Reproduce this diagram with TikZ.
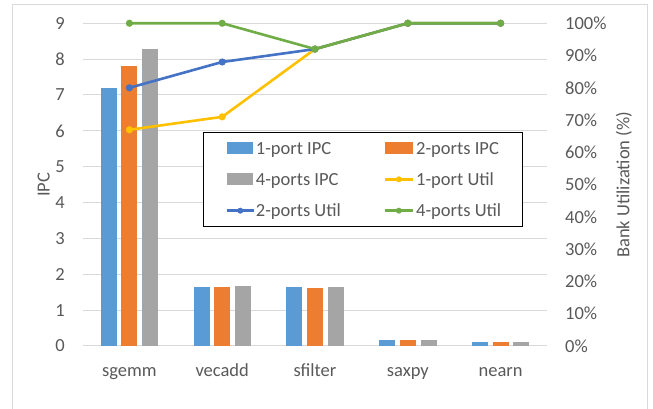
\documentclass[tikz,border=0pt]{standalone}
\usepackage{fontspec}
\setmainfont{Carlito}
\definecolor{txtgray}{HTML}{595959}
\definecolor{gridgray}{HTML}{D9D9D9}
\definecolor{barblue}{HTML}{5B9BD5}
\definecolor{barorange}{HTML}{ED7D31}
\definecolor{bargray}{HTML}{A5A5A5}
\definecolor{utilyellow}{HTML}{FFC000}
\definecolor{utilblue}{HTML}{4472C4}
\definecolor{utilgreen}{HTML}{70AD47}

\begin{document}
\begin{tikzpicture}[x=1pt,y=1pt,
  every node/.style={text=txtgray,inner sep=0pt,font=\fontsize{18.5}{22}\selectfont},
  gridline/.style={gridgray,line width=1pt},
  util/.style={line width=2.6pt,line join=round},
  swatch/.style={line width=2.6pt}]
\useasboundingbox (0,0) rectangle (653,409);
\draw[gridline] (12.7,0)--(12.7,404)--(647,404)--(647,0);
% axis titles
\node[rotate=90] (ipc) at (43.7,224.3) {IPC};
\node[rotate=90] (bank) at (624,224.3) {Bank Utilization (\%)};
% categories
\node[anchor=base] (sgemm) at (129.4,32.3) {sgemm};
\node[anchor=base] (vecadd) at (222.2,32.3) {vecadd};
\node[anchor=base] (sfilter) at (315,32.3) {sfilter};
\node[anchor=base] (saxpy) at (407.8,32.3) {saxpy};
\node[anchor=base] (nearn) at (500.6,32.3) {nearn};
\begin{scope}[shift={(83,63)},y=35.86pt]
\foreach \v in {0,...,9} {
  \draw[gridline] (0,\v)--(464,\v);
  \node[anchor=east] (l\v) at (-18,\v) {\v};
}
\foreach \p [count=\i from 0] in {0,10,...,100}
  \node[anchor=west] (r\i) at (482,\i*0.9) {\p\%};
% bars: 1-port, 2-ports, 4-ports
\fill[barblue] (17.7,0) rectangle (33.7,7.19);
\fill[barorange] (38.4,0) rectangle (54.4,7.81);
\fill[bargray] (59.1,0) rectangle (75.1,8.28);
\fill[barblue] (110.5,0) rectangle (126.5,1.64);
\fill[barorange] (131.2,0) rectangle (147.2,1.65);
\fill[bargray] (151.9,0) rectangle (167.9,1.66);
\fill[barblue] (203.3,0) rectangle (219.3,1.64);
\fill[barorange] (224,0) rectangle (240,1.63);
\fill[bargray] (244.7,0) rectangle (260.7,1.64);
\fill[barblue] (296.1,0) rectangle (312.1,0.17);
\fill[barorange] (316.8,0) rectangle (332.8,0.17);
\fill[bargray] (337.5,0) rectangle (353.5,0.17);
\fill[barblue] (388.9,0) rectangle (404.9,0.12);
\fill[barorange] (409.6,0) rectangle (425.6,0.12);
\fill[bargray] (430.3,0) rectangle (446.3,0.12);
% utilization points (100% = 9)
\coordinate (y1) at (46.4,6.03);
\coordinate (y2) at (139.2,6.39);
\coordinate (y3) at (232,8.28);
\coordinate (y4) at (324.8,9);
\coordinate (y5) at (417.6,9);
\coordinate (b1) at (46.4,7.2);
\coordinate (b2) at (139.2,7.92);
\coordinate (b3) at (232,8.28);
\coordinate (b4) at (324.8,9);
\coordinate (b5) at (417.6,9);
\coordinate (g1) at (46.4,9);
\coordinate (g2) at (139.2,9);
\coordinate (g3) at (232,8.28);
\coordinate (g4) at (324.8,9);
\coordinate (g5) at (417.6,9);
\draw[util,utilyellow] (y1)--(y2)--(y3)--(y4)--(y5);
\foreach \c in {y1,y2,y3,y4,y5} \fill[utilyellow] (\c) circle (3.6pt);
\draw[util,utilblue] (b1)--(b2)--(b3)--(b4)--(b5);
\foreach \c in {b1,b2,b3,b4,b5} \fill[utilblue] (\c) circle (3.6pt);
\draw[util,utilgreen] (g1)--(g2)--(g3)--(g4)--(g5);
\foreach \c in {g1,g2,g3,g4,g5} \fill[utilgreen] (\c) circle (3.6pt);
\end{scope}
% legend
\draw[black,line width=0.8pt,fill=white] (203.3,182.3) rectangle (522.7,276.7);
\fill[barblue] (226.7,254.7) rectangle (253.3,266.7);
\node[anchor=base west] (leg1) at (255.7,254.7) {1-port IPC};
\fill[barorange] (385,254.7) rectangle (412.7,266.7);
\node[anchor=base west] (leg2) at (416,254.7) {2-ports IPC};
\fill[bargray] (226.7,223.7) rectangle (253.3,235.7);
\node[anchor=base west] (leg3) at (255.7,223.7) {4-ports IPC};
\draw[swatch,utilyellow] (385,229.7)--(412.7,229.7);
\fill[utilyellow] (398.9,229.7) circle (3pt);
\node[anchor=base west] (leg4) at (416,223.7) {1-port Util};
\draw[swatch,utilblue] (226.7,198.3)--(254,198.3);
\fill[utilblue] (240.3,198.3) circle (3pt);
\node[anchor=base west] (leg5) at (255.7,192.3) {2-ports Util};
\draw[swatch,utilgreen] (385,198.3)--(412.7,198.3);
\fill[utilgreen] (398.9,198.3) circle (3pt);
\node[anchor=base west] (leg6) at (416,192.3) {4-ports Util};
\end{tikzpicture}
\end{document}
